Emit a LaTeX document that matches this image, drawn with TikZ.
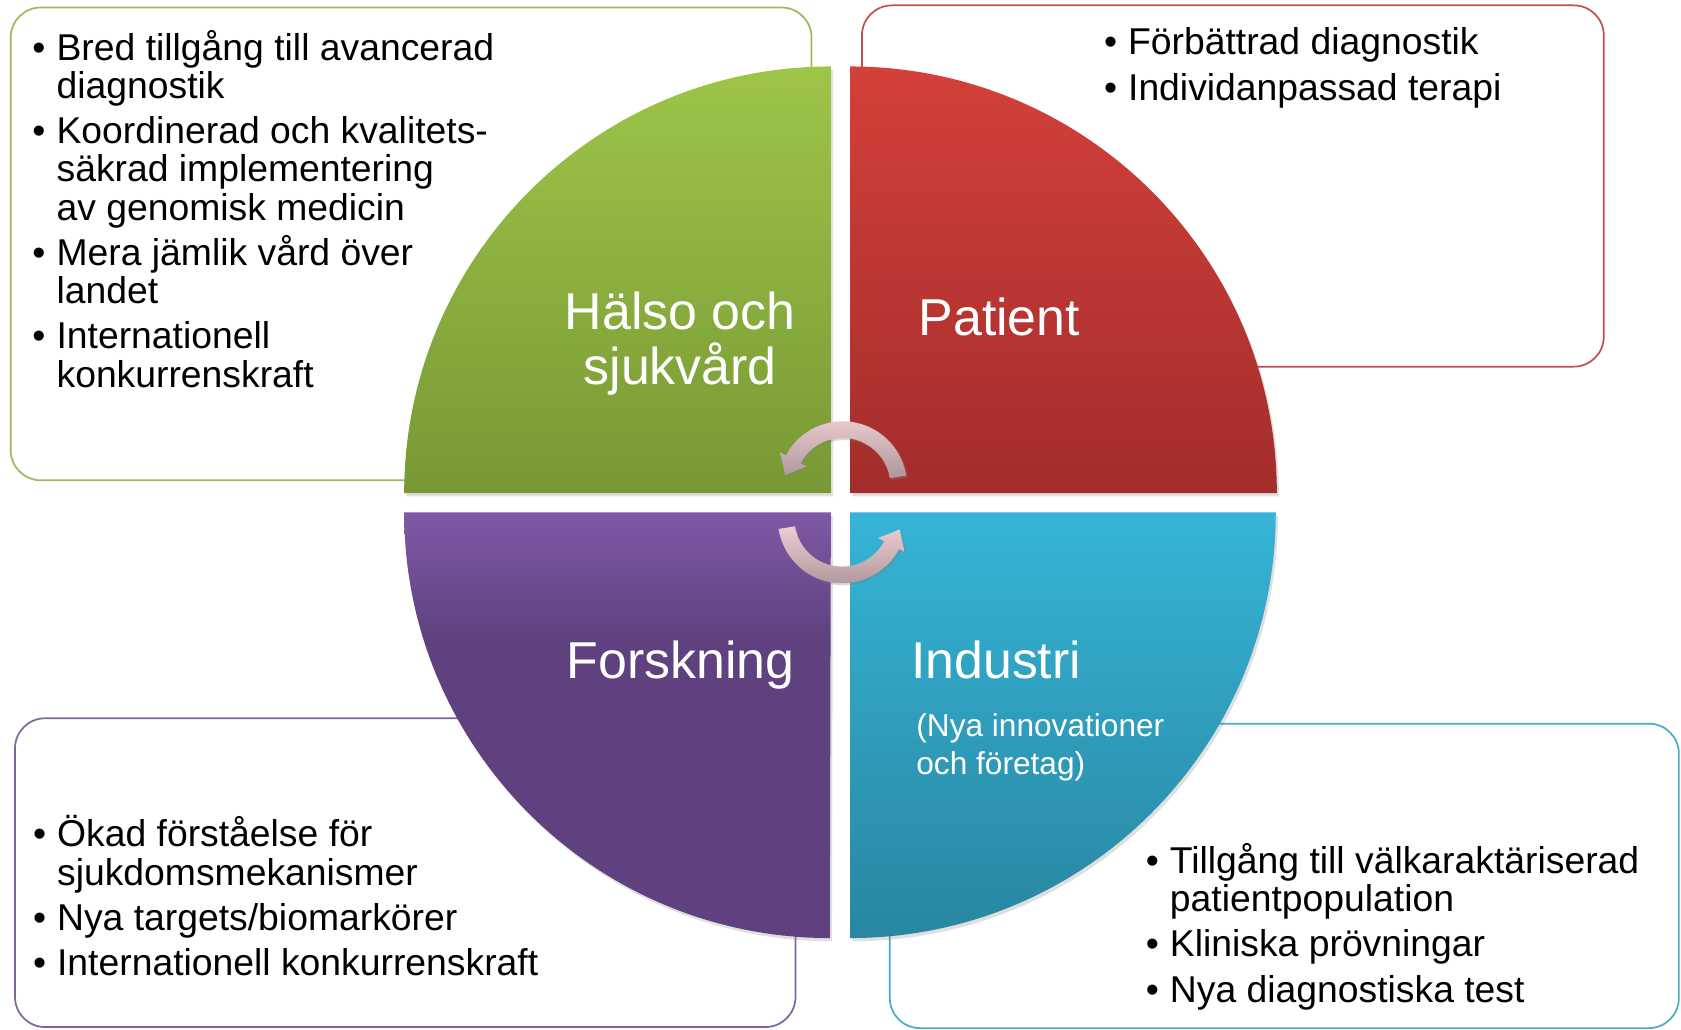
\documentclass[tikz,border=0pt]{standalone}
\usepackage{fontspec}
\setmainfont{Liberation Sans}
\usetikzlibrary{calc,shadows}

\newcommand{\punkt}[1]{\par\hangindent=11.25pt\hangafter=1\noindent\makebox[11.25pt][l]{\textbullet}#1}
\newcommand{\punktlista}[1]{\parbox[t]{270pt}{\fontsize{17.4}{17.9}\selectfont\setlength{\parskip}{3.15pt}#1}}

\definecolor{lilatopp}{RGB}{127,89,167}
\definecolor{lilabotten}{RGB}{94,65,126}
\pgfdeclareverticalshading{lilaskugga}{100bp}{color(0bp)=(lilabotten); color(60bp)=(lilabotten); color(75bp)=(lilatopp); color(100bp)=(lilatopp)}

\begin{document}
\begin{tikzpicture}[x=0.5pt, y=0.5pt, line width=0.8pt,
    ruta/.style={draw, fill=white, rounded corners=14pt},
    kvadrant/.style={drop shadow={shadow xshift=1pt, shadow yshift=-1.5pt, opacity=0.25}},
    pil/.style={top color=pilljus, bottom color=pilmork, drop shadow={shadow xshift=0.8pt, shadow yshift=-1pt, opacity=0.3}},
    rubrik/.style={text=white, inner sep=0pt, font=\fontsize{24.2}{25.6}\selectfont},
    lista/.style={inner sep=0pt, anchor=base west}]
    \definecolor{gronlinje}{RGB}{155,187,89}
    \definecolor{rodlinje}{RGB}{192,80,77}
    \definecolor{lilalinje}{RGB}{128,100,162}
    \definecolor{blalinje}{RGB}{75,172,198}
    \definecolor{grontopp}{RGB}{157,197,72}
    \definecolor{gronbotten}{RGB}{120,152,53}
    \definecolor{rodtopp}{RGB}{212,64,58}
    \definecolor{rodbotten}{RGB}{162,45,43}
    \definecolor{blatopp}{RGB}{54,180,215}
    \definecolor{blabotten}{RGB}{40,134,160}
    \definecolor{pilljus}{RGB}{236,204,208}
    \definecolor{pilmork}{RGB}{174,150,154}

    \useasboundingbox (0,0) rectangle (1568,960);

    % rutor bakom
    \draw[ruta, draw=gronlinje] (10,512) rectangle (757,953);
    \draw[ruta, draw=rodlinje] (804,618) rectangle (1496,955);
    \draw[ruta, draw=lilalinje] (14,2) rectangle (742,290);
    \draw[ruta, draw=blalinje] (830,1) rectangle (1566,285);

    % kvadranter
    \path[kvadrant, top color=grontopp, bottom color=gronbotten] (775,500) -- (775,898) arc[start angle=90, end angle=180, radius=398] -- cycle;
    \path[kvadrant, top color=rodtopp, bottom color=rodbotten] (793,500) -- (793,898) arc[start angle=90, end angle=0, radius=398] -- cycle;
    \path[kvadrant, shading=lilaskugga] (775,482) -- (377,482) arc[start angle=180, end angle=270, radius=397] -- cycle;
    \path[kvadrant, top color=blatopp, bottom color=blabotten] (793,482) -- (1190,482) arc[start angle=0, end angle=-90, radius=397] -- cycle;

    % pilar i mitten
    \coordinate (ovre) at (786,507);
    \coordinate (nedre) at (785.5,476);
    \path[pil] ($(ovre)+(9:60)$) arc[start angle=9, end angle=152, radius=60] -- ($(ovre)+(152:66)$) -- ($(ovre)+(152:52)+(242:16.5)$) -- ($(ovre)+(152:38)$) -- ($(ovre)+(152:44.5)$) arc[start angle=152, end angle=9, radius=44.5] -- cycle;
    \path[pil] ($(nedre)+(189:60)$) arc[start angle=189, end angle=332, radius=60] -- ($(nedre)+(332:66)$) -- ($(nedre)+(332:52)+(62:16.5)$) -- ($(nedre)+(332:38)$) -- ($(nedre)+(332:44.5)$) arc[start angle=332, end angle=189, radius=44.5] -- cycle;

    \node[rubrik, anchor=base] (halso) at (634.5,652.2) {\parbox[t]{140pt}{\centering Hälso och\\sjukvård}};
    \node[rubrik, anchor=base west] (patient) at (856,647.5) {Patient};
    \node[rubrik, anchor=base] (forskning) at (635,327.3) {Forskning};
    \node[rubrik, anchor=base west] (industri) at (849,327.3) {Industri};
    \node[rubrik, anchor=base west, font=\fontsize{14.75}{17.4}\selectfont] (nytt) at (854,272.8) {\parbox[t]{130pt}{(Nya innovationer\\och företag)}};

    \node[lista] (halsotext) at (29.5,904) {\punktlista{\punkt{Bred tillgång till avancerad\\diagnostik}\punkt{Koordinerad och kvalitets-\\säkrad implementering\\av genomisk medicin}\punkt{Mera jämlik vård över\\landet}\punkt{Internationell\\konkurrenskraft}}};
    \node[lista] (patienttext) at (1029,908.7) {\punktlista{\punkt{Förbättrad diagnostik}\punkt{Individanpassad terapi}}};
    \node[lista] (forskningtext) at (30,170.2) {\punktlista{\punkt{Ökad förståelse för\\sjukdomsmekanismer}\punkt{Nya targets/biomarkörer}\punkt{Internationell konkurrenskraft}}};
    \node[lista] (industritext) at (1068,145.3) {\punktlista{\punkt{Tillgång till välkaraktäriserad\\patientpopulation}\punkt{Kliniska prövningar}\punkt{Nya diagnostiska test}}};
\end{tikzpicture}
\end{document}
